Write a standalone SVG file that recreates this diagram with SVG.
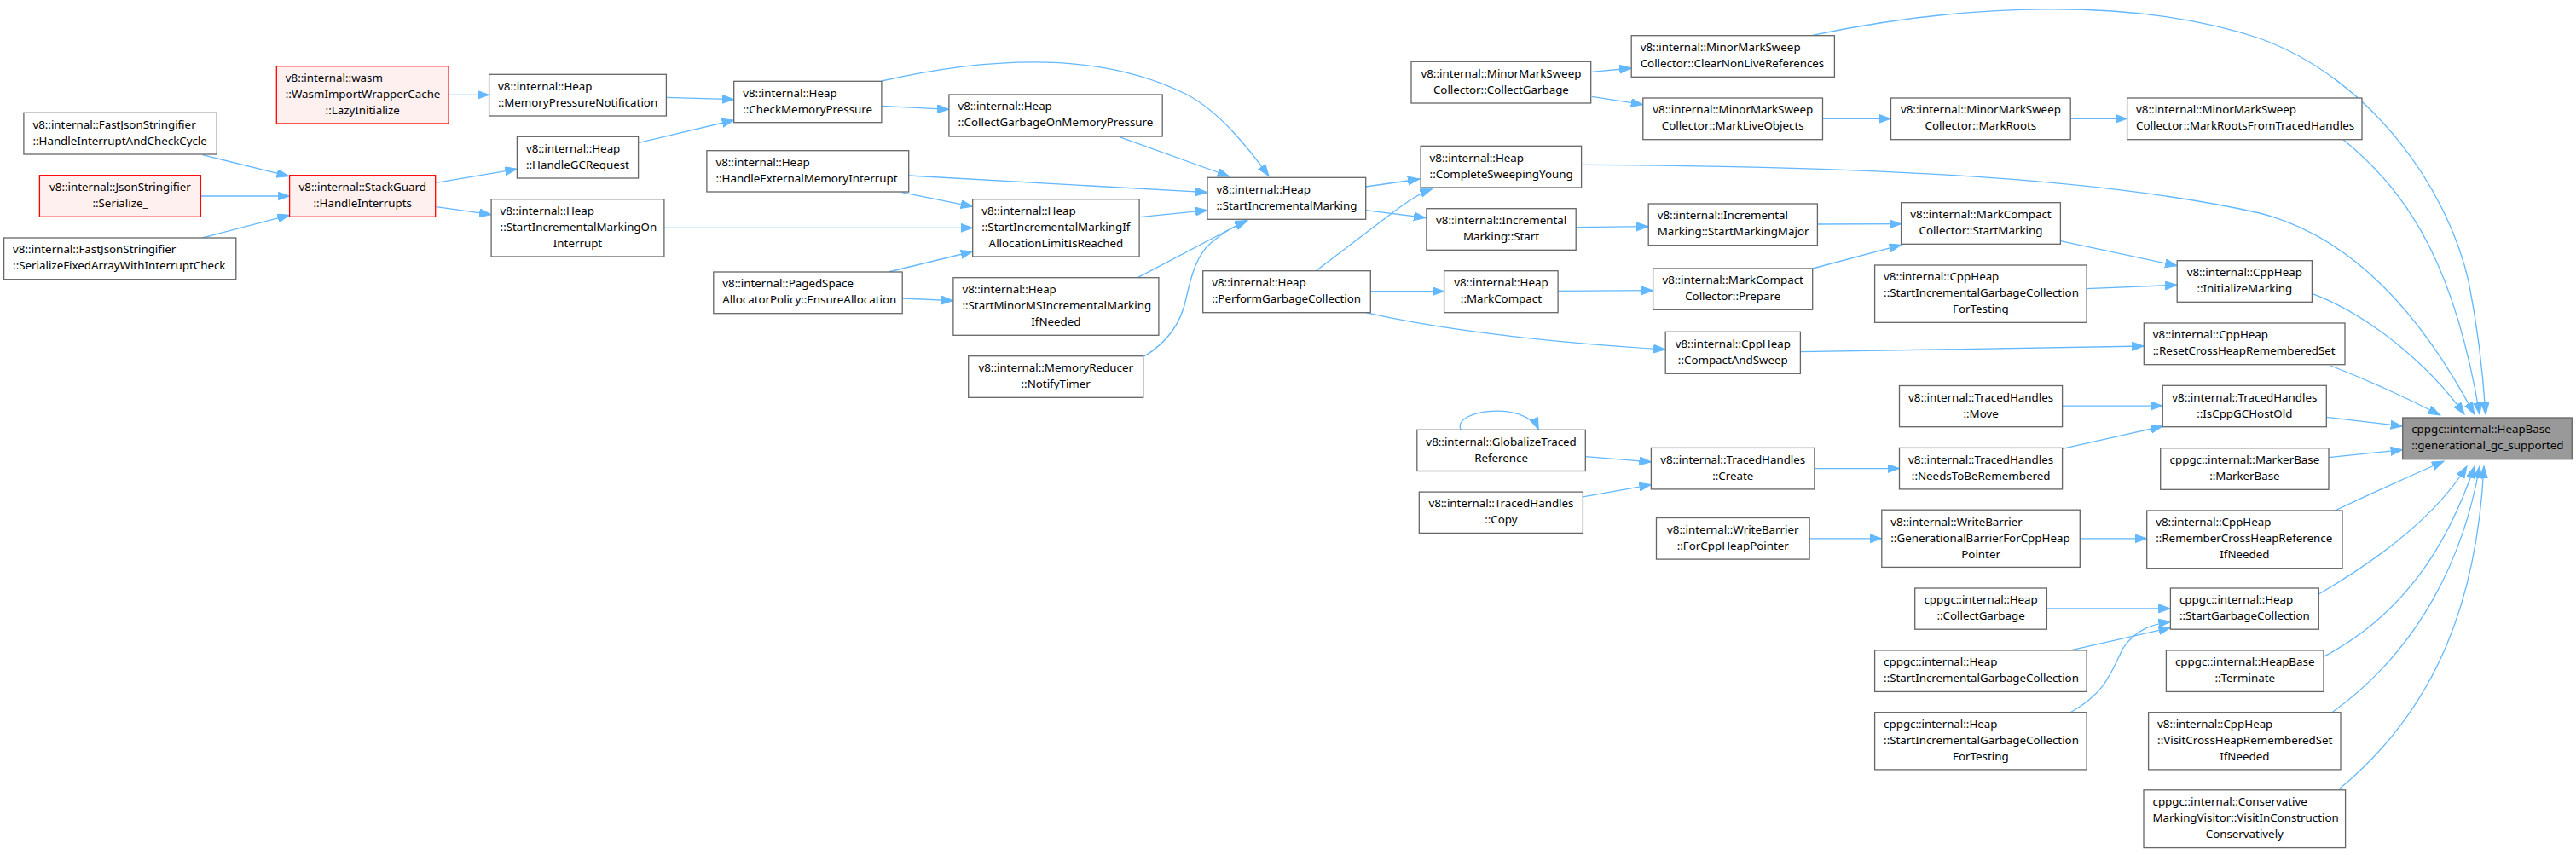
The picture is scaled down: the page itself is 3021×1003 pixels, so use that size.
<svg xmlns="http://www.w3.org/2000/svg" width="3021" height="1003" viewBox="0 0 3021 1003">
<style>
.node rect{fill:#ffffff;stroke:#666666;stroke-width:1.3}
.node.red rect{fill:#fff0f0;stroke:#ff0000}
.node.hl rect{fill:#999999;stroke:#666666}
text{font-family:"Noto Sans","Open Sans",sans-serif;font-size:13.33px;fill:#000000}
.c{text-anchor:middle}
#edges path{fill:none;stroke:#63b8ff;stroke-width:1.3;marker-end:url(#ah)}
</style>
<defs>
<marker id="ah" markerUnits="userSpaceOnUse" markerWidth="16" markerHeight="12" refX="14" refY="5" orient="auto">
<path d="M0,0 L14,5 L0,10 z" fill="#63b8ff" stroke="#63b8ff" stroke-width="1"/>
</marker>
</defs>
<rect width="3021" height="1003" fill="#ffffff"/>
<g id="edges">
<path d="M237.5,181.7 L338.6,206.7"/>
<path d="M235.4,230 L339.6,230"/>
<path d="M237.5,279 L339.6,252.3"/>
<path d="M526.1,111.3 L573.6,111.3"/>
<path d="M511.4,214.3 L606.4,198.3"/>
<path d="M511.4,242.7 L576.1,251.7"/>
<path d="M781.4,114.3 L860.7,116.7"/>
<path d="M749.3,167.3 L860.7,141"/>
<path d="M778.9,267.3 L1140.7,267.3"/>
<path d="M1065.7,206 L1416,225.7"/>
<path d="M1057.5,225.7 L1140.7,242.3"/>
<path d="M1042,319 L1140.7,295"/>
<path d="M1058.2,350 L1117.9,352.7"/>
<path d="M1033.9,124.3 L1112.9,128.3"/>
<path d="M1034,95 C1180,62 1300,65 1390,110 C1430,130 1465,175 1488,206.5"/>
<path d="M1312.9,160.7 L1441.7,207"/>
<path d="M1336.8,254.7 L1416,246.7"/>
<path d="M1334.3,325.7 L1462,258.5"/>
<path d="M1341.4,418.3 C1372,400 1386,375 1391,350 C1398,318 1405,298 1420,285 C1435,272 1450,264 1463,259"/>
<path d="M1601.7,219 L1665,210"/>
<path d="M1601.7,246.7 L1672,255.5"/>
<path d="M1543.3,317.7 L1635,248 C1650,237 1662,228 1679.3,221.7"/>
<path d="M1607.3,341.7 L1693.6,341.7"/>
<path d="M1601.7,366.7 C1660,380 1760,398 1953.2,410"/>
<path d="M1866.8,84.3 L1913.2,80"/>
<path d="M1866.8,113.3 L1926.8,122.7"/>
<path d="M2125.7,41.3 C2300,5 2500,-5 2650,45 C2780,92 2870,220 2895,330 C2905,380 2912,440 2915,486"/>
<path d="M2137.5,139.3 L2217.5,139.3"/>
<path d="M2428.2,139.3 L2494.6,139.3"/>
<path d="M2748,163.7 C2830,230 2880,320 2908,486"/>
<path d="M1854.6,193.3 C2150,195 2450,205 2650,250 C2760,278 2840,370 2901.7,486"/>
<path d="M1848.2,266.7 L1933.2,265.7"/>
<path d="M2131.4,263 L2229.6,262.7"/>
<path d="M1827.1,341.3 L1938.6,340.7"/>
<path d="M2125.7,315 L2229.6,287.3"/>
<path d="M2111.4,412.7 L2514.3,406"/>
<path d="M2416.4,282.7 L2553.2,311.7"/>
<path d="M2447.1,338.7 L2553.2,334.3"/>
<path d="M2711.4,344.3 C2780,370 2850,430 2890,486"/>
<path d="M2733.3,429 Q2800,455 2861.7,487"/>
<path d="M2728.3,489.3 L2817.7,500"/>
<path d="M2731,536.7 L2817.7,527.7"/>
<path d="M2738.3,599 Q2800,570 2866,541"/>
<path d="M2719.3,697 C2800,650 2860,600 2893,547"/>
<path d="M2725,770.4 C2820,720 2870,640 2902,547"/>
<path d="M2735,835.7 C2840,760 2890,650 2908,547"/>
<path d="M2742,926.8 C2860,830 2905,700 2913,547"/>
<path d="M2418.6,476.1 L2536.3,476.1"/>
<path d="M2418.6,526.4 L2536.3,500"/>
<path d="M2127.9,549.6 L2227.5,549.6"/>
<path d="M1713.2,504.3 C1702,480 1790,470 1804.3,504"/>
<path d="M1859.3,535.7 L1936.4,541.8"/>
<path d="M1856.4,582.9 L1936.4,568.6"/>
<path d="M2122.1,631.8 L2206.8,631.8"/>
<path d="M2439.3,631.8 L2517.7,631.8"/>
<path d="M2400.4,713.9 L2545.4,713.9"/>
<path d="M2428.2,762.9 L2545.4,736.4"/>
<path d="M2428.2,835.7 C2470,812 2475,790 2490,760 C2505,738 2525,732 2545.4,729.3"/>
</g>
<g id="n_wasm" class="node red"><rect x="324.3" y="77.7" width="201.8" height="67.3"/><text><tspan x="334.8" y="96">v8::internal::wasm</tspan><tspan x="334.8" y="115">::WasmImportWrapperCache</tspan><tspan class="c" x="425.2" y="134">::LazyInitialize</tspan></text></g>
<g id="n_fjs1" class="node"><rect x="27.9" y="132.3" width="226.4" height="48.7"/><text><tspan x="38.4" y="150.6">v8::internal::FastJsonStringifier</tspan><tspan x="38.4" y="169.6">::HandleInterruptAndCheckCycle</tspan></text></g>
<g id="n_js" class="node red"><rect x="46.4" y="205.7" width="189" height="48.6"/><text class="c"><tspan x="140.9" y="224">v8::internal::JsonStringifier</tspan><tspan x="140.9" y="243">::Serialize_</tspan></text></g>
<g id="n_fjs2" class="node"><rect x="4.6" y="279" width="272.2" height="48.7"/><text><tspan x="15.1" y="297.3">v8::internal::FastJsonStringifier</tspan><tspan x="15.1" y="316.3">::SerializeFixedArrayWithInterruptCheck</tspan></text></g>
<g id="n_sg" class="node red"><rect x="339.6" y="205.7" width="171.1" height="48.6"/><text class="c"><tspan x="425.2" y="224">v8::internal::StackGuard</tspan><tspan x="425.2" y="243">::HandleInterrupts</tspan></text></g>
<g id="n_mpn" class="node"><rect x="573.6" y="87.3" width="207.8" height="48.7"/><text><tspan x="584.1" y="105.6">v8::internal::Heap</tspan><tspan x="584.1" y="124.6">::MemoryPressureNotification</tspan></text></g>
<g id="n_hgcr" class="node"><rect x="606.4" y="160.3" width="142.2" height="48.7"/><text><tspan x="616.9" y="178.6">v8::internal::Heap</tspan><tspan x="616.9" y="197.6">::HandleGCRequest</tspan></text></g>
<g id="n_simoi" class="node"><rect x="576.1" y="233.7" width="202.8" height="67.3"/><text><tspan x="586.6" y="252">v8::internal::Heap</tspan><tspan x="586.6" y="271">::StartIncrementalMarkingOn</tspan><tspan class="c" x="677.5" y="290">Interrupt</tspan></text></g>
<g id="n_cmp" class="node"><rect x="860.7" y="95.3" width="173.2" height="48.4"/><text><tspan x="871.2" y="113.6">v8::internal::Heap</tspan><tspan x="871.2" y="132.6">::CheckMemoryPressure</tspan></text></g>
<g id="n_hemi" class="node"><rect x="828.9" y="176.7" width="236.8" height="48.3"/><text><tspan x="839.4" y="195">v8::internal::Heap</tspan><tspan x="839.4" y="214">::HandleExternalMemoryInterrupt</tspan></text></g>
<g id="n_ps" class="node"><rect x="836.8" y="319" width="221.4" height="48.7"/><text><tspan x="847.3" y="337.3">v8::internal::PagedSpace</tspan><tspan x="847.3" y="356.3">AllocatorPolicy::EnsureAllocation</tspan></text></g>
<g id="n_cgomp" class="node"><rect x="1112.9" y="111" width="250.3" height="49"/><text><tspan x="1123.4" y="129.3">v8::internal::Heap</tspan><tspan x="1123.4" y="148.3">::CollectGarbageOnMemoryPressure</tspan></text></g>
<g id="n_simif" class="node"><rect x="1140.7" y="233.7" width="195.4" height="67.3"/><text><tspan x="1151.2" y="252">v8::internal::Heap</tspan><tspan x="1151.2" y="271">::StartIncrementalMarkingIf</tspan><tspan class="c" x="1238.4" y="290">AllocationLimitIsReached</tspan></text></g>
<g id="n_sminor" class="node"><rect x="1117.9" y="325.7" width="241" height="67.6"/><text><tspan x="1128.4" y="344">v8::internal::Heap</tspan><tspan x="1128.4" y="363">::StartMinorMSIncrementalMarking</tspan><tspan class="c" x="1238.4" y="382">IfNeeded</tspan></text></g>
<g id="n_mr" class="node"><rect x="1135.7" y="417.7" width="205" height="48.6"/><text class="c"><tspan x="1238.2" y="436">v8::internal::MemoryReducer</tspan><tspan x="1238.2" y="455">::NotifyTimer</tspan></text></g>
<g id="n_sim" class="node"><rect x="1416" y="208.3" width="185.7" height="49"/><text><tspan x="1426.5" y="226.6">v8::internal::Heap</tspan><tspan x="1426.5" y="245.6">::StartIncrementalMarking</tspan></text></g>
<g id="n_pgc" class="node"><rect x="1410.7" y="317.7" width="196.6" height="49"/><text><tspan x="1421.2" y="336">v8::internal::Heap</tspan><tspan x="1421.2" y="355">::PerformGarbageCollection</tspan></text></g>
<g id="n_mmscg" class="node"><rect x="1655" y="72.3" width="210.7" height="48.7"/><text class="c"><tspan x="1760.4" y="90.6">v8::internal::MinorMarkSweep</tspan><tspan x="1760.4" y="109.6">Collector::CollectGarbage</tspan></text></g>
<g id="n_csy" class="node"><rect x="1666.1" y="171.3" width="188.5" height="48.7"/><text><tspan x="1676.6" y="189.6">v8::internal::Heap</tspan><tspan x="1676.6" y="208.6">::CompleteSweepingYoung</tspan></text></g>
<g id="n_ims" class="node"><rect x="1672.9" y="244.7" width="175.3" height="48.6"/><text class="c"><tspan x="1760.6" y="263">v8::internal::Incremental</tspan><tspan x="1760.6" y="282">Marking::Start</tspan></text></g>
<g id="n_hmc" class="node"><rect x="1693.6" y="317.7" width="133.5" height="49"/><text class="c"><tspan x="1760.4" y="336">v8::internal::Heap</tspan><tspan x="1760.4" y="355">::MarkCompact</tspan></text></g>
<g id="n_cnlr" class="node"><rect x="1913.2" y="41.7" width="238.2" height="48.6"/><text><tspan x="1923.7" y="60">v8::internal::MinorMarkSweep</tspan><tspan x="1923.7" y="79">Collector::ClearNonLiveReferences</tspan></text></g>
<g id="n_mlo" class="node"><rect x="1926.8" y="115" width="210.7" height="48.7"/><text class="c"><tspan x="2032.2" y="133.3">v8::internal::MinorMarkSweep</tspan><tspan x="2032.2" y="152.3">Collector::MarkLiveObjects</tspan></text></g>
<g id="n_imsmm" class="node"><rect x="1933.2" y="239" width="198.2" height="48.7"/><text><tspan x="1943.7" y="257.3">v8::internal::Incremental</tspan><tspan x="1943.7" y="276.3">Marking::StartMarkingMajor</tspan></text></g>
<g id="n_mccp" class="node"><rect x="1938.6" y="315" width="187.1" height="48.3"/><text class="c"><tspan x="2032.2" y="333.3">v8::internal::MarkCompact</tspan><tspan x="2032.2" y="352.3">Collector::Prepare</tspan></text></g>
<g id="n_cas" class="node"><rect x="1953.2" y="389.3" width="158.2" height="49"/><text class="c"><tspan x="2032.3" y="407.6">v8::internal::CppHeap</tspan><tspan x="2032.3" y="426.6">::CompactAndSweep</tspan></text></g>
<g id="n_mroots" class="node"><rect x="2217.5" y="115" width="210.7" height="48.7"/><text class="c"><tspan x="2322.9" y="133.3">v8::internal::MinorMarkSweep</tspan><tspan x="2322.9" y="152.3">Collector::MarkRoots</tspan></text></g>
<g id="n_mccsm" class="node"><rect x="2229.6" y="237.7" width="186.8" height="48.6"/><text class="c"><tspan x="2323" y="256">v8::internal::MarkCompact</tspan><tspan x="2323" y="275">Collector::StartMarking</tspan></text></g>
<g id="n_chsigcft" class="node"><rect x="2198.6" y="311" width="248.5" height="67.3"/><text><tspan x="2209.1" y="329.3">v8::internal::CppHeap</tspan><tspan x="2209.1" y="348.3">::StartIncrementalGarbageCollection</tspan><tspan class="c" x="2322.9" y="367.3">ForTesting</tspan></text></g>
<g id="n_mrfth" class="node"><rect x="2494.6" y="115" width="275.4" height="48.7"/><text><tspan x="2505.1" y="133.3">v8::internal::MinorMarkSweep</tspan><tspan x="2505.1" y="152.3">Collector::MarkRootsFromTracedHandles</tspan></text></g>
<g id="n_im" class="node"><rect x="2553.2" y="305.7" width="158.2" height="48.6"/><text class="c"><tspan x="2632.3" y="324">v8::internal::CppHeap</tspan><tspan x="2632.3" y="343">::InitializeMarking</tspan></text></g>
<g id="n_rchrs" class="node"><rect x="2514.3" y="379" width="235.7" height="48.7"/><text><tspan x="2524.8" y="397.3">v8::internal::CppHeap</tspan><tspan x="2524.8" y="416.3">::ResetCrossHeapRememberedSet</tspan></text></g>
<g id="n_gtr" class="node"><rect x="1661.8" y="504.3" width="197.5" height="48.2"/><text class="c"><tspan x="1760.6" y="522.6">v8::internal::GlobalizeTraced</tspan><tspan x="1760.6" y="541.6">Reference</tspan></text></g>
<g id="n_copy" class="node"><rect x="1664.3" y="577.1" width="192.1" height="48.3"/><text class="c"><tspan x="1760.4" y="595.4">v8::internal::TracedHandles</tspan><tspan x="1760.4" y="614.4">::Copy</tspan></text></g>
<g id="n_create" class="node"><rect x="1936.4" y="525.4" width="191.5" height="48.5"/><text class="c"><tspan x="2032.2" y="543.7">v8::internal::TracedHandles</tspan><tspan x="2032.2" y="562.7">::Create</tspan></text></g>
<g id="n_fchp" class="node"><rect x="1942.5" y="607.5" width="179.6" height="48.6"/><text class="c"><tspan x="2032.3" y="625.8">v8::internal::WriteBarrier</tspan><tspan x="2032.3" y="644.8">::ForCppHeapPointer</tspan></text></g>
<g id="n_move" class="node"><rect x="2227.5" y="452.5" width="191.1" height="48.2"/><text class="c"><tspan x="2323.1" y="470.8">v8::internal::TracedHandles</tspan><tspan x="2323.1" y="489.8">::Move</tspan></text></g>
<g id="n_ntbr" class="node"><rect x="2227.5" y="525.4" width="191.1" height="48.5"/><text class="c"><tspan x="2323.1" y="543.7">v8::internal::TracedHandles</tspan><tspan x="2323.1" y="562.7">::NeedsToBeRemembered</tspan></text></g>
<g id="n_gbfchp" class="node"><rect x="2206.8" y="598.2" width="232.5" height="67.2"/><text><tspan x="2217.3" y="616.5">v8::internal::WriteBarrier</tspan><tspan x="2217.3" y="635.5">::GenerationalBarrierForCppHeap</tspan><tspan class="c" x="2323.1" y="654.5">Pointer</tspan></text></g>
<g id="n_hcg" class="node"><rect x="2245.7" y="690" width="154.7" height="48.2"/><text class="c"><tspan x="2323.1" y="708.3">cppgc::internal::Heap</tspan><tspan x="2323.1" y="727.3">::CollectGarbage</tspan></text></g>
<g id="n_hsigc" class="node"><rect x="2198.6" y="762.9" width="248.5" height="48.5"/><text><tspan x="2209.1" y="781.2">cppgc::internal::Heap</tspan><tspan x="2209.1" y="800.2">::StartIncrementalGarbageCollection</tspan></text></g>
<g id="n_hsigcft" class="node"><rect x="2198.6" y="835.7" width="248.5" height="67.2"/><text><tspan x="2209.1" y="854">cppgc::internal::Heap</tspan><tspan x="2209.1" y="873">::StartIncrementalGarbageCollection</tspan><tspan class="c" x="2322.9" y="892">ForTesting</tspan></text></g>
<g id="n_icgho" class="node"><rect x="2536.3" y="452.3" width="192" height="48.4"/><text class="c"><tspan x="2632.3" y="470.6">v8::internal::TracedHandles</tspan><tspan x="2632.3" y="489.6">::IsCppGCHostOld</tspan></text></g>
<g id="n_mb" class="node"><rect x="2533.7" y="525.7" width="197.3" height="48.6"/><text class="c"><tspan x="2632.4" y="544">cppgc::internal::MarkerBase</tspan><tspan x="2632.4" y="563">::MarkerBase</tspan></text></g>
<g id="n_rchrin" class="node"><rect x="2517.7" y="599" width="229.3" height="67.7"/><text><tspan x="2528.2" y="617.3">v8::internal::CppHeap</tspan><tspan x="2528.2" y="636.3">::RememberCrossHeapReference</tspan><tspan class="c" x="2632.4" y="655.3">IfNeeded</tspan></text></g>
<g id="n_sgc" class="node"><rect x="2545.4" y="690" width="173.9" height="48.2"/><text><tspan x="2555.9" y="708.3">cppgc::internal::Heap</tspan><tspan x="2555.9" y="727.3">::StartGarbageCollection</tspan></text></g>
<g id="n_term" class="node"><rect x="2540.4" y="762.9" width="184.6" height="48.5"/><text class="c"><tspan x="2632.7" y="781.2">cppgc::internal::HeapBase</tspan><tspan x="2632.7" y="800.2">::Terminate</tspan></text></g>
<g id="n_vchrs" class="node"><rect x="2519.6" y="835.7" width="225.4" height="67.2"/><text><tspan x="2530.1" y="854">v8::internal::CppHeap</tspan><tspan x="2530.1" y="873">::VisitCrossHeapRememberedSet</tspan><tspan class="c" x="2632.3" y="892">IfNeeded</tspan></text></g>
<g id="n_cmv" class="node"><rect x="2514" y="926.8" width="236.6" height="67.8"/><text><tspan x="2524.5" y="945.1">cppgc::internal::Conservative</tspan><tspan x="2524.5" y="964.1">MarkingVisitor::VisitInConstruction</tspan><tspan class="c" x="2632.3" y="983.1">Conservatively</tspan></text></g>
<g id="n_hb" class="node hl"><rect x="2817.7" y="490" width="198.6" height="48.7"/><text><tspan x="2828.2" y="508.3">cppgc::internal::HeapBase</tspan><tspan x="2828.2" y="527.3">::generational_gc_supported</tspan></text></g>
</svg>
